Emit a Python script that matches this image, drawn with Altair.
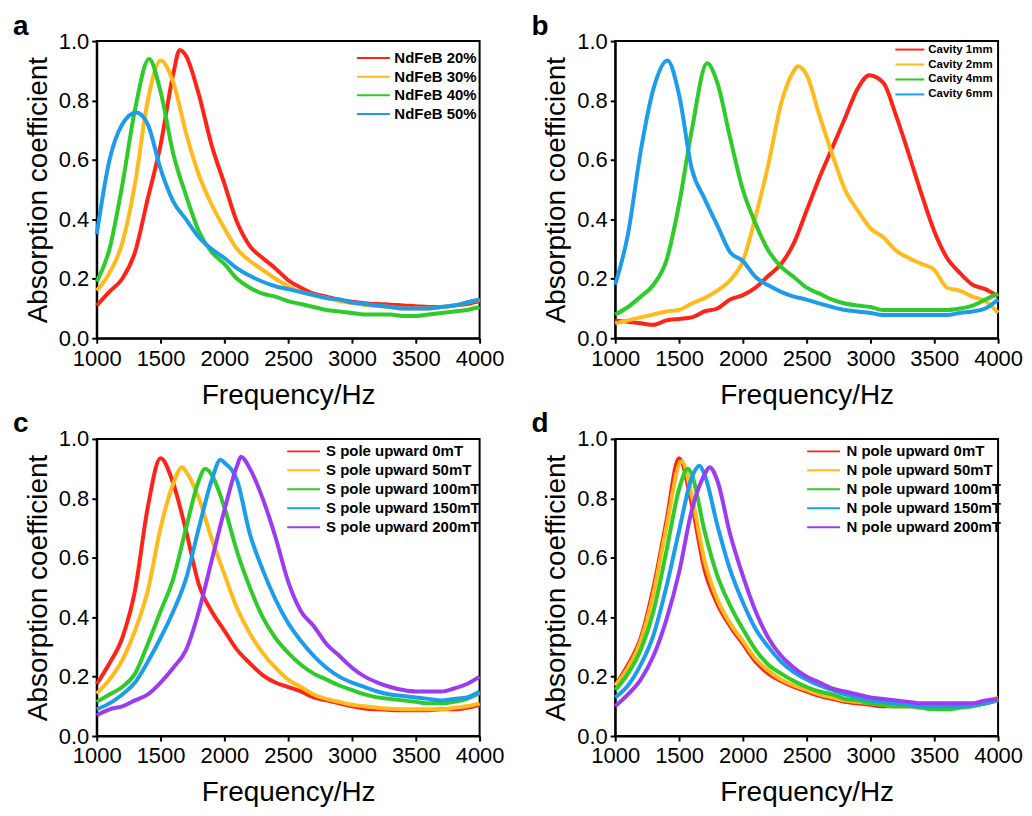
import altair as alt
import pandas as pd

FREQ = list(range(1000, 4001, 100))
FONT = "Liberation Sans"

# ---------- panel a ----------
A_NAMES = ["NdFeB 20%", "NdFeB 30%", "NdFeB 40%", "NdFeB 50%"]
A_20 = [0.11, 0.157, 0.20, 0.29, 0.47, 0.65, 0.89, 0.95, 0.82, 0.65, 0.52, 0.39, 0.31, 0.27, 0.235, 0.195,
        0.17, 0.15, 0.14, 0.13, 0.123, 0.118, 0.115, 0.113, 0.11, 0.108, 0.105, 0.105, 0.11, 0.115, 0.125]
A_30 = [0.16, 0.22, 0.32, 0.52, 0.80, 0.93, 0.86, 0.69, 0.55, 0.45, 0.37, 0.30, 0.26, 0.23, 0.20, 0.175,
        0.155, 0.145, 0.135, 0.125, 0.118, 0.112, 0.108, 0.105, 0.10, 0.10, 0.10, 0.105, 0.11, 0.12, 0.13]
A_40 = [0.19, 0.30, 0.515, 0.77, 0.93, 0.83, 0.62, 0.48, 0.36, 0.29, 0.25, 0.20, 0.17, 0.15, 0.14, 0.125,
        0.115, 0.105, 0.095, 0.09, 0.085, 0.08, 0.08, 0.08, 0.075, 0.075, 0.08, 0.085, 0.09, 0.095, 0.105]
A_50 = [0.35, 0.60, 0.72, 0.76, 0.72, 0.57, 0.46, 0.40, 0.34, 0.30, 0.27, 0.235, 0.21, 0.19, 0.175, 0.165,
        0.155, 0.145, 0.135, 0.13, 0.12, 0.115, 0.11, 0.105, 0.10, 0.10, 0.10, 0.105, 0.11, 0.12, 0.13]
A_PEAK_F = [1650, 1500, 1410, 1310]
A_PEAK_V = [0.97, 0.935, 0.94, 0.76]

# ---------- panel b ----------
B_NAMES = ["Cavity 1mm", "Cavity 2mm", "Cavity 4mm", "Cavity 6mm"]
B_1 = [0.06, 0.055, 0.05, 0.045, 0.06, 0.065, 0.07, 0.09, 0.10, 0.13, 0.145, 0.17, 0.21, 0.25, 0.32, 0.43,
       0.54, 0.64, 0.74, 0.84, 0.88, 0.86, 0.75, 0.62, 0.485, 0.36, 0.27, 0.22, 0.18, 0.165, 0.14]
B_2 = [0.05, 0.06, 0.07, 0.08, 0.09, 0.095, 0.117, 0.135, 0.16, 0.195, 0.26, 0.41, 0.585, 0.79, 0.90, 0.886,
       0.75, 0.62, 0.50, 0.43, 0.37, 0.34, 0.295, 0.27, 0.25, 0.23, 0.17, 0.16, 0.14, 0.125, 0.085]
B_4 = [0.08, 0.105, 0.14, 0.18, 0.26, 0.45, 0.70, 0.92, 0.86, 0.675, 0.50, 0.385, 0.295, 0.24, 0.206, 0.17,
       0.15, 0.13, 0.117, 0.11, 0.105, 0.095, 0.095, 0.095, 0.095, 0.095, 0.095, 0.10, 0.11, 0.13, 0.15]
B_6 = [0.18, 0.35, 0.63, 0.84, 0.93, 0.82, 0.57, 0.47, 0.38, 0.29, 0.26, 0.206, 0.178, 0.156, 0.14, 0.13,
       0.117, 0.105, 0.095, 0.09, 0.085, 0.078, 0.078, 0.078, 0.078, 0.078, 0.078, 0.085, 0.09, 0.10, 0.13]
B_PEAK_F = [2990, 2430, 1720, 1410]
B_PEAK_V = [0.885, 0.915, 0.925, 0.935]

# ---------- panel c ----------
C_NAMES = ["S pole upward 0mT", "S pole upward 50mT", "S pole upward 100mT",
           "S pole upward 150mT", "S pole upward 200mT"]
C_0 = [0.175, 0.245, 0.33, 0.49, 0.77, 0.935, 0.85, 0.69, 0.51, 0.42, 0.355, 0.29, 0.245, 0.205, 0.18, 0.165,
       0.15, 0.13, 0.12, 0.11, 0.10, 0.093, 0.09, 0.088, 0.087, 0.087, 0.087, 0.09, 0.09, 0.095, 0.105]
C_50 = [0.143, 0.19, 0.255, 0.355, 0.49, 0.70, 0.85, 0.89, 0.80, 0.665, 0.545, 0.43, 0.345, 0.28, 0.23, 0.19,
        0.165, 0.14, 0.125, 0.115, 0.105, 0.10, 0.095, 0.092, 0.09, 0.09, 0.09, 0.09, 0.095, 0.10, 0.11]
C_100 = [0.115, 0.14, 0.165, 0.21, 0.31, 0.42, 0.53, 0.70, 0.86, 0.88, 0.77, 0.62, 0.50, 0.40, 0.33, 0.28,
         0.24, 0.21, 0.19, 0.17, 0.155, 0.14, 0.13, 0.125, 0.12, 0.115, 0.11, 0.11, 0.115, 0.125, 0.145]
C_150 = [0.09, 0.11, 0.14, 0.18, 0.25, 0.33, 0.42, 0.53, 0.70, 0.86, 0.92, 0.86, 0.68, 0.56, 0.46, 0.38,
         0.32, 0.27, 0.23, 0.20, 0.18, 0.165, 0.15, 0.14, 0.135, 0.13, 0.125, 0.12, 0.125, 0.13, 0.15]
C_200 = [0.07, 0.09, 0.10, 0.12, 0.14, 0.18, 0.23, 0.29, 0.42, 0.59, 0.76, 0.91, 0.90, 0.80, 0.67, 0.52,
         0.42, 0.37, 0.31, 0.27, 0.23, 0.20, 0.18, 0.165, 0.155, 0.15, 0.15, 0.15, 0.16, 0.175, 0.20]
C_PEAK_F = [1500, 1670, 1850, 1970, 2130]
C_PEAK_V = [0.935, 0.905, 0.90, 0.93, 0.94]

# ---------- panel d ----------
D_NAMES = ["N pole upward 0mT", "N pole upward 50mT", "N pole upward 100mT",
           "N pole upward 150mT", "N pole upward 200mT"]
D_0 = [0.17, 0.24, 0.33, 0.50, 0.72, 0.935, 0.78, 0.56, 0.445, 0.37, 0.31, 0.25, 0.21, 0.185, 0.165, 0.15,
       0.135, 0.125, 0.115, 0.11, 0.105, 0.10, 0.10, 0.10, 0.10, 0.10, 0.10, 0.10, 0.105, 0.11, 0.12]
D_50 = [0.17, 0.23, 0.32, 0.48, 0.70, 0.92, 0.81, 0.59, 0.46, 0.38, 0.32, 0.26, 0.22, 0.19, 0.17, 0.155,
        0.14, 0.13, 0.12, 0.115, 0.11, 0.105, 0.10, 0.10, 0.10, 0.10, 0.10, 0.10, 0.105, 0.115, 0.13]
D_100 = [0.155, 0.21, 0.29, 0.42, 0.62, 0.83, 0.88, 0.69, 0.54, 0.44, 0.36, 0.29, 0.24, 0.21, 0.185, 0.165,
         0.15, 0.14, 0.125, 0.12, 0.11, 0.105, 0.10, 0.10, 0.095, 0.09, 0.09, 0.095, 0.10, 0.11, 0.12]
D_150 = [0.13, 0.17, 0.24, 0.34, 0.50, 0.69, 0.87, 0.88, 0.71, 0.56, 0.45, 0.36, 0.30, 0.25, 0.215, 0.19,
         0.17, 0.155, 0.14, 0.13, 0.12, 0.115, 0.11, 0.105, 0.10, 0.10, 0.10, 0.10, 0.105, 0.11, 0.125]
D_200 = [0.10, 0.14, 0.19, 0.27, 0.39, 0.55, 0.76, 0.88, 0.86, 0.68, 0.54, 0.42, 0.33, 0.27, 0.23, 0.20,
         0.18, 0.16, 0.15, 0.14, 0.13, 0.125, 0.12, 0.115, 0.11, 0.11, 0.11, 0.11, 0.11, 0.12, 0.125]
D_PEAK_F = [1500, 1520, 1570, 1660, 1740]
D_PEAK_V = [0.935, 0.925, 0.90, 0.91, 0.905]

COLORS = ["#FF2418", "#FFBA1E", "#2ECB2A", "#1E9CEC", "#9B3CF2"]
X_TICKS = [1000, 1500, 2000, 2500, 3000, 3500, 4000]
Y_TICKS = [0.0, 0.2, 0.4, 0.6, 0.8, 1.0]


def build_df(names, series, peak_f, peak_v):
    rows = []
    for i, (name, vals) in enumerate(zip(names, series)):
        pts = [(f, v) for f, v in zip(FREQ, vals) if abs(f - peak_f[i]) >= 30]
        pts.append((peak_f[i], peak_v[i]))
        pts.sort()
        for f, v in pts:
            rows.append({"f": f, "a": v, "s": name})
    return pd.DataFrame(rows)


def panel(letter, names, series, peak_f, peak_v, lg):
    df = build_df(names, series, peak_f, peak_v)
    lines = alt.Chart(df).mark_line(strokeWidth=4, interpolate="monotone").encode(
        x=alt.X("f:Q", scale=alt.Scale(domain=[1000, 4000], nice=False, zero=False),
                axis=alt.Axis(values=X_TICKS, format="d", title="Frequency/Hz")),
        y=alt.Y("a:Q", scale=alt.Scale(domain=[0, 1], nice=False),
                axis=alt.Axis(values=Y_TICKS, format=".1f", title="Absorption coefficient")),
        color=alt.Color("s:N", sort=names,
                        scale=alt.Scale(domain=names, range=COLORS[:len(names)]),
                        legend=alt.Legend(
                            title=None, orient="none", legendX=lg["x"], legendY=lg["y"],
                            symbolType=lg["path"], symbolSize=121, symbolStrokeWidth=2,
                            labelFontSize=lg["fs"], labelFontWeight="bold", labelFont=FONT,
                            labelColor="black", rowPadding=lg["rp"], labelOffset=lg["lo"],
                            padding=0, labelLimit=400)),
    )
    txt = alt.Chart(pd.DataFrame({"t": [letter]})).mark_text(
        font=FONT, fontSize=28, fontWeight="bold", align="left", baseline="alphabetic", color="black"
    ).encode(x=alt.value(-84), y=alt.value(-6.5), text="t:N")
    return alt.layer(lines, txt).properties(width=384, height=298)


pa = panel("a", A_NAMES, [A_20, A_30, A_40, A_50], A_PEAK_F, A_PEAK_V,
           {"x": 270, "y": 9.5, "path": "M-3,0H3", "fs": 15, "rp": 2.7, "lo": 13.5})
pb = panel("b", B_NAMES, [B_1, B_2, B_4, B_6], B_PEAK_F, B_PEAK_V,
           {"x": 289, "y": 2, "path": "M-2.64,0H2.64", "fs": 11.5, "rp": 3, "lo": 12})
pc = panel("c", C_NAMES, [C_0, C_50, C_100, C_150, C_200], C_PEAK_F, C_PEAK_V,
           {"x": 200, "y": 5, "path": "M-3,0H3", "fs": 15, "rp": 3, "lo": 15})
pd_ = panel("d", D_NAMES, [D_0, D_50, D_100, D_150, D_200], D_PEAK_F, D_PEAK_V,
            {"x": 201.5, "y": 5, "path": "M-3,0H3", "fs": 15, "rp": 3, "lo": 15.5})

chart = alt.concat(
    pa, pb, pc, pd_, columns=2, spacing={"row": 101, "column": 136}, bounds="flush"
).resolve_scale(color="independent", x="independent", y="independent").properties(
    padding={"left": 4, "top": 2, "right": 0, "bottom": 0}
).configure_view(
    stroke="black", strokeWidth=2
).configure_axis(
    domainColor="black", domainWidth=2, tickColor="black", tickWidth=2, tickSize=5,
    labelFont=FONT, labelFontSize=22, labelColor="black", labelFlush=False,
    titleFont=FONT, titleFontWeight="normal", titleColor="black", grid=False
).configure_axisX(
    titleFontSize=28, titlePadding=12, labelPadding=5
).configure_axisY(
    titleFontSize=28, titlePadding=6, labelPadding=3
)

chart.save("out.html", embed_options={"renderer": "svg", "actions": False})
